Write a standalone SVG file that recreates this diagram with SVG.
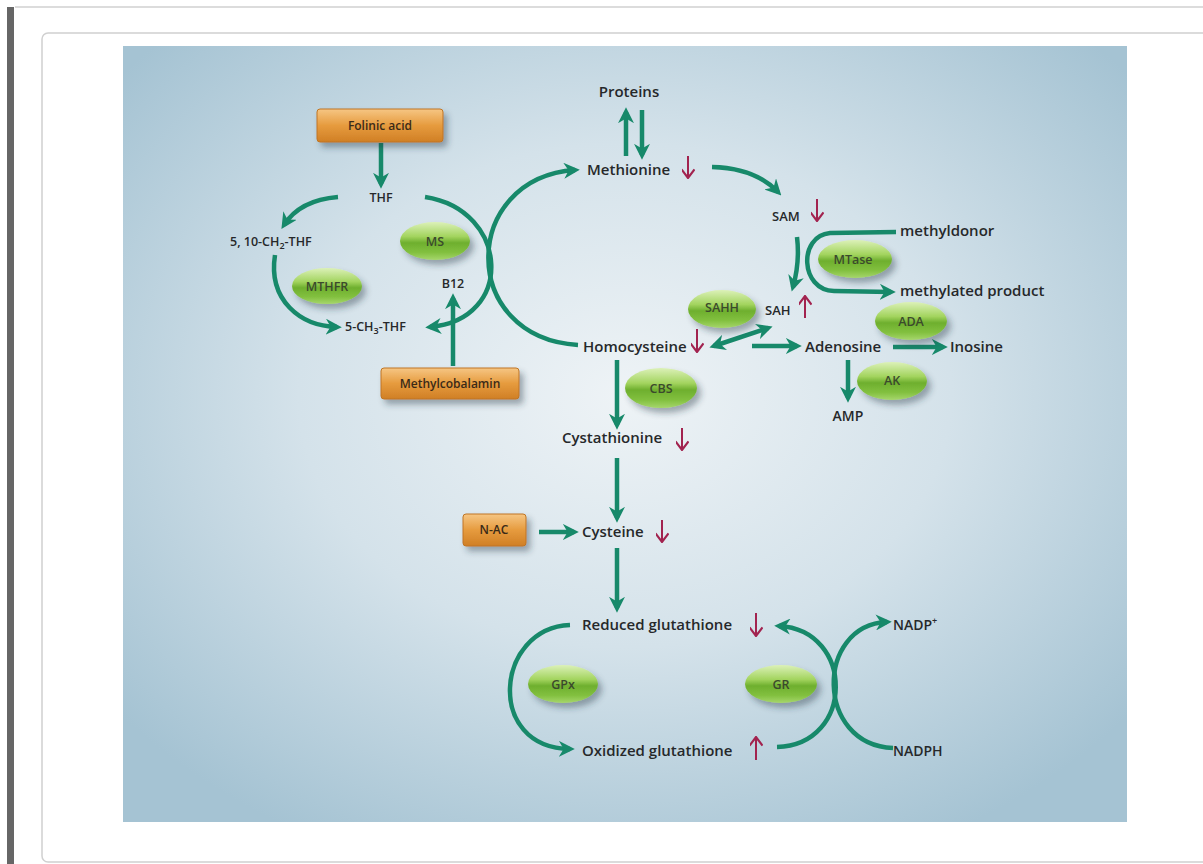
<svg xmlns="http://www.w3.org/2000/svg" width="1203" height="864" viewBox="0 0 1203 864">
<defs>
<radialGradient id="bg" cx="50%" cy="45%" r="65%">
<stop offset="0" stop-color="#eef3f6"/>
<stop offset="0.5" stop-color="#d4e2ea"/>
<stop offset="1" stop-color="#a5c3d3"/>
</radialGradient>
<linearGradient id="eg" x1="0" y1="0" x2="0" y2="1">
<stop offset="0" stop-color="#dcf1b8"/>
<stop offset="0.38" stop-color="#a3d45f"/>
<stop offset="0.55" stop-color="#6eaf2e"/>
<stop offset="0.8" stop-color="#82c03f"/>
<stop offset="1" stop-color="#a6d66c"/>
</linearGradient>
<linearGradient id="og" x1="0" y1="0" x2="0" y2="1">
<stop offset="0" stop-color="#f6c684"/>
<stop offset="0.5" stop-color="#e69b3e"/>
<stop offset="1" stop-color="#d07f25"/>
</linearGradient>
<filter id="sh" x="-30%" y="-40%" width="170%" height="190%">
<feDropShadow dx="4" dy="5" stdDeviation="3" flood-color="#2a3a44" flood-opacity="0.4"/>
</filter>
<marker id="ah" viewBox="0 0 10 10" refX="7" refY="5" markerWidth="16" markerHeight="16" markerUnits="userSpaceOnUse" orient="auto-start-reverse">
<path d="M0,0 L10,5 L0,10 L3,5 Z" fill="#17896a"/>
</marker>
<marker id="rh" viewBox="0 0 10 12" refX="9" refY="6" markerWidth="11" markerHeight="13" markerUnits="userSpaceOnUse" orient="auto">
<path d="M1,0 L9,6 L1,12" fill="none" stroke="#a2234f" stroke-width="2"/>
</marker>
</defs>
<style>
.t{font-family:"Open Sans","Noto Sans","Liberation Sans",sans-serif;font-weight:600;fill:#26282a}
.m{font-size:15px}
.s{font-size:12.5px}
.en{font-family:"Open Sans","Noto Sans","Liberation Sans",sans-serif;font-weight:600;font-size:12.5px;fill:#3b4a2c;text-anchor:middle}
.bx{font-family:"Open Sans","Noto Sans","Liberation Sans",sans-serif;font-weight:600;font-size:12px;fill:#3a2a18;text-anchor:middle}
.el{fill:url(#eg);filter:url(#sh)}
.ob{fill:url(#og);stroke:#bf7424;stroke-width:1;filter:url(#sh)}
.c{fill:none;stroke:#17896a;stroke-width:4.5;marker-end:url(#ah)}
.r{fill:none;stroke:#a2234f;stroke-width:2;marker-end:url(#rh)}
</style>
<rect width="1203" height="864" fill="#ffffff"/>
<line x1="15" y1="7" x2="1203" y2="7" stroke="#dcdcdc" stroke-width="2"/>
<rect x="7" y="7" width="7" height="857" fill="#666666"/>
<rect x="42" y="33" width="1200" height="829" rx="6" fill="#ffffff" stroke="#d0d0d0" stroke-width="1.5"/>
<rect x="123" y="46" width="1004" height="776" fill="url(#bg)"/>

<g id="connectors">
<path class="c" d="M381,143 L381,184"/>
<path class="c" d="M338,197 Q300,200 284,225"/>
<path class="c" d="M275,255 C268,300 300,326 337,327"/>
<path class="c" d="M425,197 C510,210 515,320 430,327"/>
<path class="c" d="M578,345 C458,338 460,178 575,170"/>
<path class="c" d="M453,366 L453,298"/>
<path class="c" d="M626,156 L626,112"/>
<path class="c" d="M642,110 L642,155"/>
<path class="c" d="M712,167 Q755,168 778,192"/>
<path class="c" d="M797,237 Q800,262 793,287"/>
<path class="c" d="M896,232 L830,233 C798,236 800,290 834,291 L891,292"/>
<path class="c" d="M714,346 L768,328" style="marker-start:url(#ah)"/>
<path class="c" d="M752,346 L797,346"/>
<path class="c" d="M893,347 L943,347"/>
<path class="c" d="M848,360 L848,398"/>
<path class="c" d="M617,360 L617,425"/>
<path class="c" d="M617,458 L617,518"/>
<path class="c" d="M539,532 L574,532"/>
<path class="c" d="M617,548 L617,608"/>
<path class="c" d="M570,625 C495,628 485,748 570,749"/>
<path class="c" d="M777,747 C855,745 855,630 779,626"/>
<path class="c" d="M893,748 C815,745 815,625 887,622"/>
<path class="r" d="M688,156 L688,178"/>
<path class="r" d="M817,199 L817,221"/>
<path class="r" d="M805,318 L805,296"/>
<path class="r" d="M697,329 L697,352"/>
<path class="r" d="M682,428 L682,450"/>
<path class="r" d="M662,520 L662,542"/>
<path class="r" d="M756,613 L756,636"/>
<path class="r" d="M756,760 L756,737"/>
</g>

<g id="folinic"><rect class="ob" x="317" y="109" width="126" height="33" rx="3"/><text class="bx" x="380" y="130">Folinic acid</text></g>
<g id="methylcobalamin"><rect class="ob" x="381" y="368" width="138" height="31" rx="3"/><text class="bx" x="450" y="388">Methylcobalamin</text></g>
<g id="nac"><rect class="ob" x="463" y="514" width="63" height="32" rx="3"/><text class="bx" x="494" y="534">N-AC</text></g>

<g id="ms"><ellipse class="el" cx="435" cy="241" rx="35" ry="19"/><text class="en" x="435" y="246">MS</text></g>
<g id="mthfr"><ellipse class="el" cx="327" cy="286" rx="35" ry="18"/><text class="en" x="327" y="291">MTHFR</text></g>
<g id="mtase"><ellipse class="el" cx="855" cy="259" rx="37" ry="19"/><text class="en" x="853" y="264">MTase</text></g>
<g id="sahh"><ellipse class="el" cx="722" cy="309" rx="34" ry="19"/><text class="en" x="722" y="312">SAHH</text></g>
<g id="ada"><ellipse class="el" cx="911" cy="321" rx="36" ry="19"/><text class="en" x="911" y="326">ADA</text></g>
<g id="ak"><ellipse class="el" cx="892" cy="381" rx="35" ry="19"/><text class="en" x="892" y="385">AK</text></g>
<g id="cbs"><ellipse class="el" cx="661" cy="388" rx="36" ry="20"/><text class="en" x="661" y="393">CBS</text></g>
<g id="gpx"><ellipse class="el" cx="563" cy="684" rx="35" ry="19"/><text class="en" x="563" y="689">GPx</text></g>
<g id="gr"><ellipse class="el" cx="781" cy="684" rx="36" ry="19"/><text class="en" x="781" y="689">GR</text></g>

<g id="proteins"><text class="t m" x="629" y="97" text-anchor="middle">Proteins</text></g>
<g id="thf"><text class="t s" x="381" y="202" text-anchor="middle">THF</text></g>
<g id="ch2thf"><text class="t s" x="230" y="246">5, 10-CH<tspan font-size="9" dy="3">2</tspan><tspan dy="-3">-THF</tspan></text></g>
<g id="b12"><text class="t s" x="453" y="288" text-anchor="middle">B12</text></g>
<g id="ch3thf"><text class="t s" x="345" y="331">5-CH<tspan font-size="9" dy="3">3</tspan><tspan dy="-3">-THF</tspan></text></g>
<g id="methionine"><text class="t m" x="587" y="175">Methionine</text></g>
<g id="sam"><text class="t" font-size="13" x="772" y="221">SAM</text></g>
<g id="methyldonor"><text class="t m" x="900" y="236">methyldonor</text></g>
<g id="methylated"><text class="t m" x="900" y="296">methylated product</text></g>
<g id="sah"><text class="t" font-size="13" x="765" y="315">SAH</text></g>
<g id="homocysteine"><text class="t m" x="583" y="352">Homocysteine</text></g>
<g id="adenosine"><text class="t m" x="805" y="352">Adenosine</text></g>
<g id="inosine"><text class="t m" x="950" y="352">Inosine</text></g>
<g id="amp"><text class="t" font-size="14" x="848" y="421" text-anchor="middle">AMP</text></g>
<g id="cystathionine"><text class="t m" x="562" y="443">Cystathionine</text></g>
<g id="cysteine"><text class="t m" x="582" y="537">Cysteine</text></g>
<g id="reduced"><text class="t m" x="582" y="630">Reduced glutathione</text></g>
<g id="oxidized"><text class="t m" x="582" y="756">Oxidized glutathione</text></g>
<g id="nadp"><text class="t" font-size="14" x="893" y="630">NADP<tspan font-size="9" dy="-6">+</tspan></text></g>
<g id="nadph"><text class="t" font-size="14" x="893" y="756">NADPH</text></g>
</svg>
